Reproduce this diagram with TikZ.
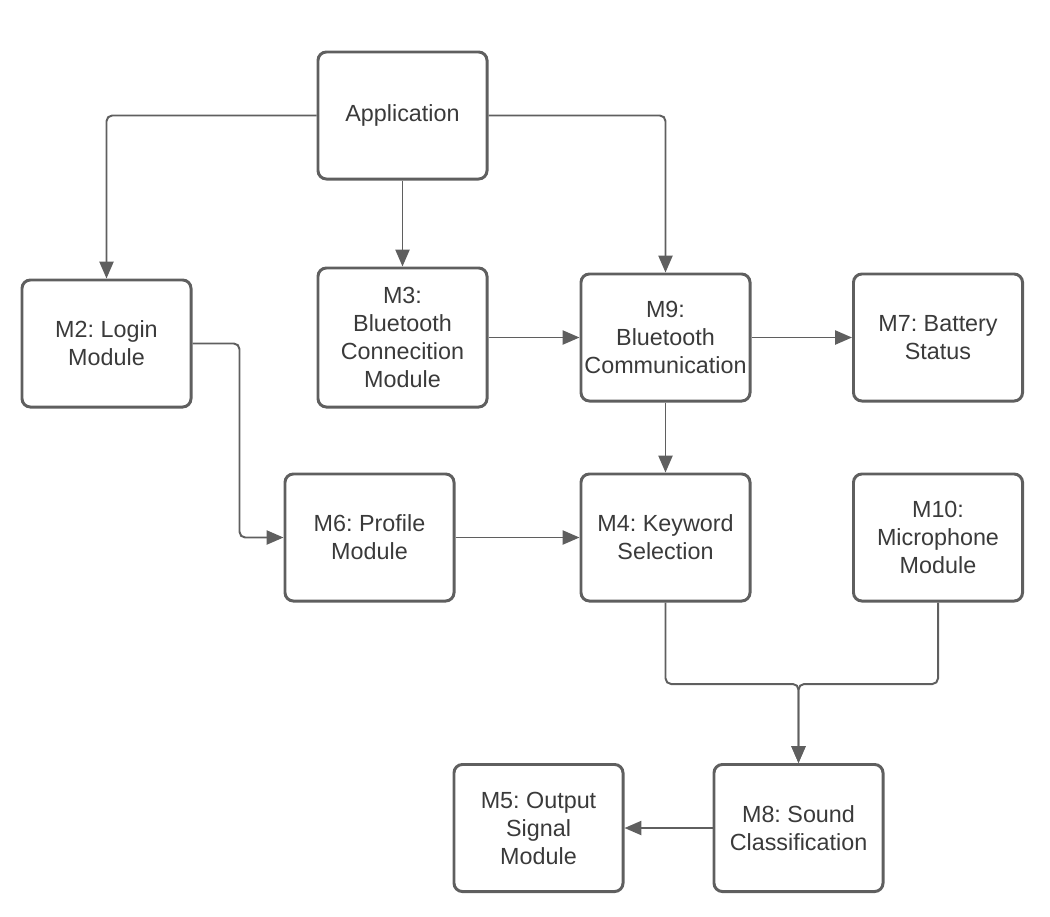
\documentclass[tikz,border=0pt]{standalone}
\usepackage{fontspec}
\setmainfont{Liberation Sans}
\usetikzlibrary{arrows.meta}
\definecolor{linegray}{HTML}{5F5F5F}
\definecolor{textgray}{HTML}{3A3A3A}
\frenchspacing
\tikzset{
  module/.style={draw=linegray,line width=2.1pt,rounded corners=6pt,
    minimum width=4.225cm,minimum height=3.175cm,inner sep=0pt,
    align=center,text=textgray,font=\fontsize{16.6}{19.9}\selectfont},
  link/.style={draw=linegray,line width=1.4pt,rounded corners=4pt,
    -{Triangle[length=12pt,width=10pt]}}
}
\begin{document}
\begin{tikzpicture}[x=0.025cm,y=-0.025cm]

      \useasboundingbox (0,0) rectangle (1050,916);

      \begin{scope}[every node/.style={module}]
        \node (app) at (402.5,115.5) {Application};
        \node (m2)  at (106.5,343.5) {M2: Login\\Module};
        \node[minimum height=3.475cm] (m3) at (402.5,337.5) {M3:\\Bluetooth\\Connecition\\Module};
        \node (m9)  at (665.5,337.5) {M9:\\Bluetooth\\Communication};
        \node (m7)  at (938,337.5)   {M7: Battery\\Status};
        \node (m6)  at (369.5,537.5) {M6: Profile\\Module};
        \node (m4)  at (665.5,537.5) {M4: Keyword\\Selection};
        \node (m10) at (938,537.5)   {M10:\\Microphone\\Module};
        \node (m8)  at (798.5,828)   {M8: Sound\\Classification};
        \node (m5)  at (538.5,828)   {M5: Output\\Signal\\Module};
      \end{scope}

      \coordinate (join) at (798.5,684);

      \begin{scope}[every path/.style={link}]
        \draw (app.west) -| (m2.north);
        \draw (app.south) -- (m3.north);
        \draw (app.east) -| (m9.north);
        \draw (m3.east) -- (m9.west);
        \draw (m9.east) -- (m7.west);
        \draw (m9.south) -- (m4.north);
        \draw (m2.east) -- ++(47,0) |- (m6.west);
        \draw (m6.east) -- (m4.west);
        \draw (m4.south) |- (join) -- (m8.north);
        \draw (m10.south) |- (join) -- (m8.north);
        \draw (m8.west) -- (m5.east);
      \end{scope}

    \end{tikzpicture}
\end{document}
